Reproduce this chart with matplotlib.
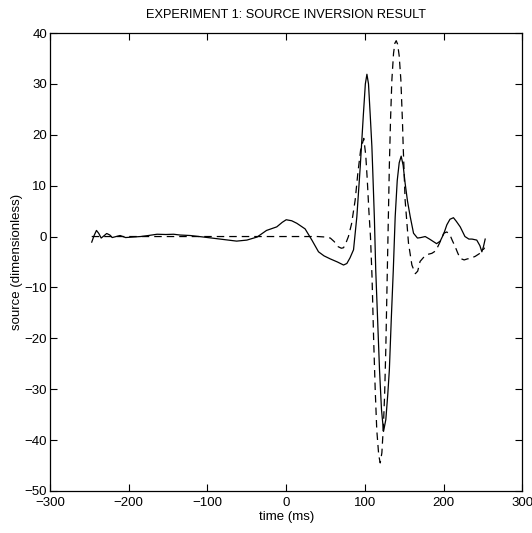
import numpy as np
import matplotlib.pyplot as plt

plt.rcParams['font.family'] = ['Liberation Sans', 'DejaVu Sans']

# inverted source (solid)
t_inv = [-247, -244, -241, -238, -235, -231, -228, -224, -221, -216, -211, -204,
         -195, -185, -175, -164, -153, -143, -135, -122, -105, -84, -63, -50,
         -37, -25, -12, -5, 0, 7, 13.5, 24, 32.6, 41, 48, 56, 65, 72.8, 77, 81,
         85.5, 89.7, 94, 98, 100.5, 102.5, 104.5, 107, 108.8, 110, 112, 113.7,
         116, 118.5, 121, 123.6, 126.5, 129, 131, 133.5, 136, 138.4, 141, 143.5,
         146, 148.5, 151, 154, 157.5, 161.7, 166.7, 171, 176.5, 182, 187, 191,
         195.6, 200, 204, 208, 212.4, 216, 221, 227, 232, 236, 242, 246, 248.5,
         250.5, 252.7]
s_inv = [-1.1, 0.2, 1.2, 0.6, -0.3, 0.2, 0.6, 0.3, -0.2, 0.0, 0.2, -0.2,
         -0.1, 0.0, 0.2, 0.45, 0.4, 0.45, 0.3, 0.2, -0.1, -0.5, -0.9, -0.7,
         -0.1, 1.2, 1.9, 2.8, 3.3, 3.1, 2.6, 1.5, -0.7, -3.0, -3.8, -4.4, -5.0, -5.6, -5.3, -4.2,
         -2.6, 3.9, 13.7, 24.0, 30.0, 31.9, 30.0, 23.0, 17.7, 12.5, 3.5, -6.6,
         -16.0, -26.2, -34.0, -38.3, -36.0, -31.0, -26.2, -16.0, -6.6, 3.9, 11.0, 14.5,
         15.8, 14.0, 10.5, 7.0, 3.9, 0.65, -0.3, -0.2, 0.0, -0.5, -1.0, -1.4,
         -0.9, 0.5, 2.3, 3.4, 3.7, 3.0, 1.9, 0.0, -0.5, -0.5, -0.7, -1.8, -3.0,
         -2.0, -0.5]

# true source (dashed)
t_true = [-247, -200, -150, -100, -50, 0, 40, 50, 56, 61, 66, 70, 72.8, 76, 79,
          83, 87.6, 91, 94.5, 98.5, 101, 103, 105, 107, 109, 111, 113, 115,
          117.5, 119.4, 121.5, 123.5, 125, 126.5, 128, 129.5, 131, 132.5, 134.2,
          136.3, 138, 139.7, 141.5, 143.5, 145.6, 147.7, 148.5, 151, 155.3,
          159.6, 164, 167, 170, 175, 180, 185, 190, 195, 200, 204, 208, 211,
          214.6, 218, 221, 226, 230, 233.7, 240, 245, 248.5, 252]
s_true = [0.0, 0.0, 0.0, 0.0, 0.0, 0.0, 0.0, -0.1, -0.3, -1.0, -2.0, -2.3, -2.2, -1.2, 0.0,
          2.5, 7.2, 12.5, 17.0, 19.3, 16.0, 11.0, 5.0, 0.0, -8.0, -20.0, -30.0, -38.0,
          -43.0, -44.5, -42.5, -37.0, -31.0, -22.0, -10.0, 2.0, 14.0, 23.0, 30.8,
          36.0, 38.0, 38.5, 37.8, 35.5, 30.8, 22.3, 18.0, 7.2, -1.3,
          -5.6, -7.3, -6.8, -4.9, -4.0, -3.5, -3.3, -2.8, -1.2, 0.65, 0.9, 0.3, -0.8,
          -2.0, -3.3, -4.3, -4.6, -4.4, -4.3, -3.9, -3.4, -3.0, -2.2]

x_ticks = [-300, -200, -100, 0, 100, 200, 300]
y_ticks = [-50, -40, -30, -20, -10, 0, 10, 20, 30, 40]


def main():
    fig = plt.figure(figsize=(5.32, 5.33), dpi=100)
    ax = fig.add_axes([0.094, 0.079, 0.888, 0.859])
    ax.plot(t_inv, s_inv, '-', color='black', lw=0.9)
    ax.plot(t_true, s_true, '--', color='black', lw=0.9, dashes=(6, 4))
    ax.set_xlim(-300, 300)
    ax.set_ylim(-50, 40)
    ax.set_xticks(x_ticks)
    ax.set_yticks(y_ticks)
    ax.tick_params(direction='in', top=True, right=True, length=5, width=0.8,
                   labelsize=9.5)
    ax.tick_params(axis='x', pad=4.5)
    ax.tick_params(axis='y', pad=2)
    for sp in ax.spines.values():
        sp.set_linewidth(0.9)
    ax.set_title('EXPERIMENT 1: SOURCE INVERSION RESULT', fontsize=9.2, pad=11)
    ax.set_xlabel('time (ms)', fontsize=9.5, labelpad=1)
    ax.set_ylabel('source (dimensionless)', fontsize=9.5, labelpad=1)
    fig.savefig('out.png', dpi=100)


if __name__ == "__main__":
    main()
